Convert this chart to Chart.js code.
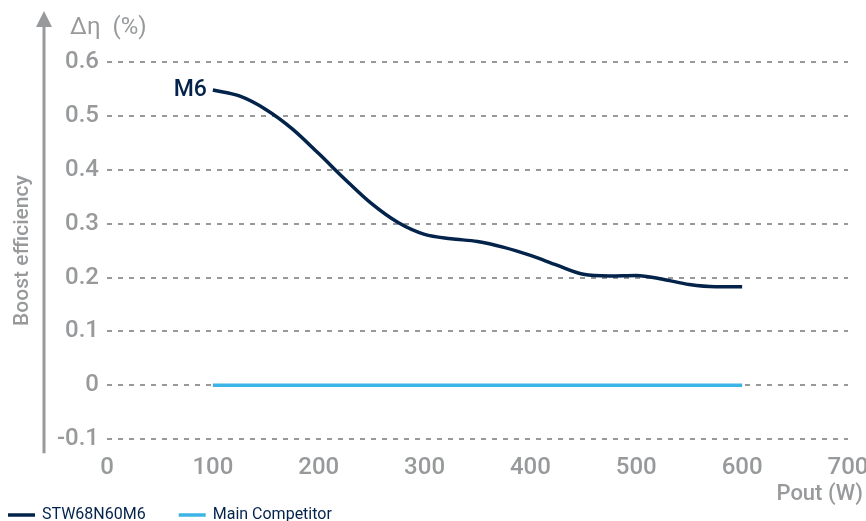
<!DOCTYPE html>
<html lang="en">

<head>
    <meta charset="UTF-8">
    <title>Boost efficiency</title>
    <script src="https://cdn.jsdelivr.net/npm/chart.js"></script>
    <style>
        html, body { margin: 0; padding: 0; overflow: hidden; background: #fff; }
        #caixa { width: 866px; height: 521px; }
    </style>
</head>

<body>
    <div id="caixa">
        <canvas id="grafico"></canvas>
    </div>
</body>

</html>

<script>
    // potencia de saida (W)
    var pout = [100, 125, 150, 175, 200, 225, 250, 275, 300, 325, 350, 375, 400, 425, 450, 475, 500, 525, 550, 575, 600]
    // ganho de eficiencia M6 (%)
    var deltaM6 = [0.548, 0.537, 0.512, 0.476, 0.43, 0.382, 0.337, 0.302, 0.28, 0.272, 0.267, 0.256, 0.241, 0.223, 0.206, 0.203, 0.204, 0.197, 0.187, 0.183, 0.183]
    // concorrente = referencia
    var deltaConc = [0, 0, 0, 0, 0, 0, 0, 0, 0, 0, 0, 0, 0, 0, 0, 0, 0, 0, 0, 0, 0]
    var yTicks = [-0.1, 0, 0.1, 0.2, 0.3, 0.4, 0.5, 0.6]
    var xTicks = [0, 100, 200, 300, 400, 500, 600, 700]

    var cinza = '#97999b'
    var azulEscuro = '#03234b'
    var azulClaro = '#3cb4e6'
    var fonte = "'Roboto', sans-serif"

    var extras = {
        id: 'extras',
        afterDraw: function (chart) {
            var ctx = chart.ctx
            var y = chart.scales.y
            var x = chart.scales.x
            var area = chart.chartArea
            var eixoX = y.left + 44
            ctx.save()
            // eixo vertical com seta
            ctx.strokeStyle = cinza
            ctx.fillStyle = cinza
            ctx.lineWidth = 3
            ctx.beginPath()
            ctx.moveTo(eixoX, 26)
            ctx.lineTo(eixoX, area.bottom + 14)
            ctx.stroke()
            ctx.beginPath()
            ctx.moveTo(eixoX, 11)
            ctx.lineTo(eixoX - 8, 27)
            ctx.lineTo(eixoX + 8, 27)
            ctx.closePath()
            ctx.fill()
            // unidade
            ctx.font = '24px ' + fonte
            ctx.textBaseline = 'middle'
            ctx.textAlign = 'left'
            ctx.fillText('\u0394\u03b7  (%)', eixoX + 26, 28)
            // titulo do eixo x, encostado na direita
            ctx.font = '500 22px ' + fonte
            ctx.textAlign = 'right'
            ctx.fillText('Pout (W)', chart.width - 3, x.bottom + 6)
            // rotulo M6 no primeiro ponto
            var p = chart.getDatasetMeta(0).data[0]
            ctx.fillStyle = azulEscuro
            ctx.font = '500 23px ' + fonte
            ctx.fillText('M6', p.x - 6, p.y)
            // legenda embaixo (cortada como no original)
            ctx.font = '16px ' + fonte
            ctx.textAlign = 'left'
            var lx = 8
            var ly = chart.height - 6
            chart.data.datasets.forEach(function (ds) {
                ctx.strokeStyle = ds.borderColor
                ctx.lineWidth = 3.5
                ctx.beginPath()
                ctx.moveTo(lx, ly)
                ctx.lineTo(lx + 27, ly)
                ctx.stroke()
                ctx.fillStyle = azulEscuro
                ctx.fillText(ds.label, lx + 34, ly)
                lx += 34 + ctx.measureText(ds.label).width + 33
            })
            ctx.restore()
        }
    }

    var dados = {
        datasets: [{
            label: 'STW68N60M6',
            data: pout.map((x, i) => ({ x: x, y: deltaM6[i] })),
            borderColor: azulEscuro,
            backgroundColor: azulEscuro,
            borderWidth: 3.5,
            pointRadius: 0,
            tension: 0.4,
            cubicInterpolationMode: 'monotone'
        }, {
            label: 'Main Competitor',
            data: pout.map((x, i) => ({ x: x, y: deltaConc[i] })),
            borderColor: azulClaro,
            backgroundColor: azulClaro,
            borderWidth: 3.5,
            pointRadius: 0
        }]
    }

    var config = {
        type: 'line',
        data: dados,
        options: {
            responsive: true,
            maintainAspectRatio: false,
            animation: false,
            layout: { padding: { top: 62, right: 0, left: 0, bottom: 33 } },
            plugins: {
                legend: { display: false },
                tooltip: { enabled: false }
            },
            scales: {
                x: {
                    type: 'linear',
                    min: 0,
                    max: 700,
                    afterBuildTicks: function (s) { s.ticks = xTicks.map(v => ({ value: v })) },
                    afterFit: function (s) { s.paddingRight = 18 },
                    grid: { display: false },
                    border: { display: false },
                    ticks: { color: cinza, font: { family: fonte, size: 24, weight: '500' }, padding: 6 }
                },
                y: {
                    min: -0.1,
                    max: 0.6,
                    afterBuildTicks: function (s) { s.ticks = yTicks.map(v => ({ value: v })) },
                    afterFit: function (s) { s.width = 107 },
                    grid: {
                        color: cinza,
                        lineWidth: 2,
                        drawTicks: false
                    },
                    border: { display: false, dash: [5, 6] },
                    ticks: {
                        color: cinza,
                        font: { family: fonte, size: 24, weight: '500' },
                        padding: 8,
                        callback: function (v) { return v == 0 ? '0' : v.toFixed(1) }
                    },
                    title: {
                        display: true,
                        text: 'Boost efficiency',
                        color: cinza,
                        font: { family: fonte, size: 21, weight: '500' },
                        padding: { top: 10, bottom: 0 }
                    }
                }
            }
        },
        plugins: [extras]
    }

    var grafico = new Chart(document.getElementById('grafico'), config)
</script>
